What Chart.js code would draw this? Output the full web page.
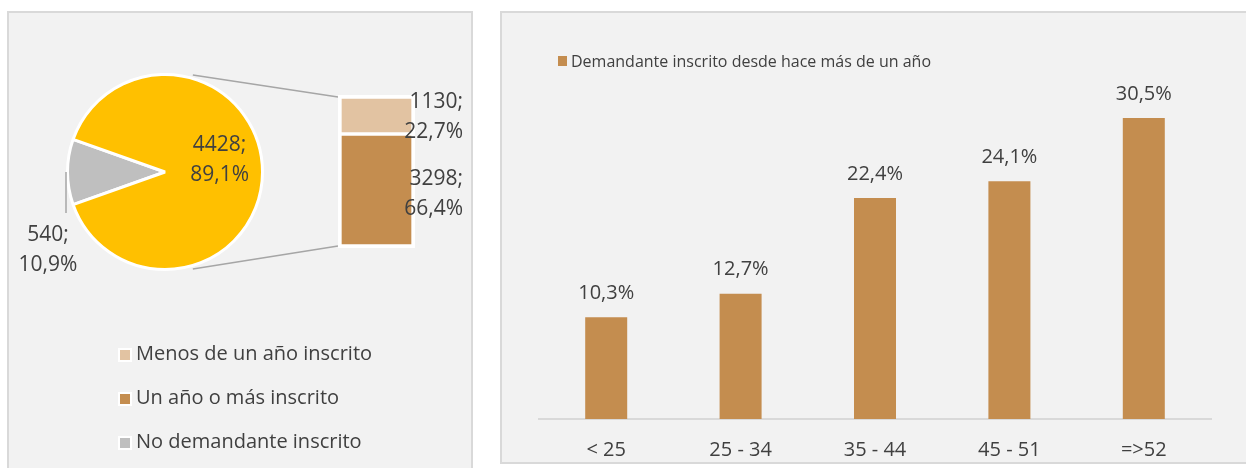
<!DOCTYPE html>
<html><head><meta charset="utf-8">
<script src="https://cdn.jsdelivr.net/npm/chart.js@4.4.1/dist/chart.umd.min.js"></script>
<style>
html,body{margin:0;padding:0;background:#fff;width:1246px;height:468px;overflow:hidden;font-family:"Open Sans",sans-serif;color:#404040}
.panel{position:absolute;background:#f2f2f2;border:2px solid #d9d9d9;box-sizing:border-box}
canvas{position:absolute}
.lt{position:absolute;white-space:nowrap}
.sw{position:absolute;box-sizing:content-box}
</style></head><body>
<div class="panel" style="left:7px;top:11px;width:466px;height:470px"></div>
<div class="panel" style="left:500px;top:11px;width:760px;height:453px"></div>
<canvas id="pie" width="462" height="455" style="left:9px;top:13px"></canvas>
<canvas id="stack" width="150" height="180" style="left:320px;top:80px"></canvas>
<canvas id="bars" width="744" height="468" style="left:502px;top:13px"></canvas>
<div id="legends"></div>
<script>
// ---- data ----
const pieLabels = ['No demandante inscrito', 'Demandante inscrito'];
const pieValues = [540, 4428];
const stackLabels = ['Un año o más inscrito', 'Menos de un año inscrito'];
const stackValues = [3298, 1130];
const leftLegendLabels = ['Menos de un año inscrito', 'Un año o más inscrito', 'No demandante inscrito'];
const ageCategories = ['< 25', '25 - 34', '35 - 44', '45 - 51', '=>52'];
const ageValues = [10.3, 12.7, 22.4, 24.1, 30.5];
const barSeriesName = 'Demandante inscrito desde hace más de un año';

const COL = {yellow:'#FFC000', gray:'#BFBFBF', dark:'#C48D4F', light:'#E2C3A2', text:'#404040', line:'#A6A6A6'};
const FONT = '"Open Sans", sans-serif';
const total = pieValues.reduce((a,b)=>a+b,0);
const pct = v => (v/total*100).toFixed(1).replace('.', ',') + '%';
const num = v => v.toFixed(1).replace('.', ',') + '%';

// ---- legends (HTML) ----
const leg = document.getElementById('legends');
const leftCols = [COL.light, COL.dark, COL.gray];
const leftRows = [354, 398, 442];
leftLegendLabels.forEach((t,i)=>{
  const s = document.createElement('div'); s.className='sw';
  s.style.cssText += `left:118px;top:${leftRows[i]-6.5}px;width:10px;height:10px;border:2.5px solid #fff;background:${leftCols[i]}`;
  leg.appendChild(s);
  const d = document.createElement('div'); d.className='lt'; d.textContent=t;
  d.style.cssText += `left:136px;top:${leftRows[i]-14.6}px;font-size:20px;line-height:28px`;
  leg.appendChild(d);
});
{
  const s = document.createElement('div'); s.className='sw';
  s.style.cssText += `left:558px;top:56px;width:9px;height:9.5px;background:${COL.dark}`;
  leg.appendChild(s);
  const d = document.createElement('div'); d.className='lt'; d.textContent=barSeriesName;
  d.style.cssText += `left:571px;top:49.7px;font-size:16px;line-height:22px`;
  leg.appendChild(d);
}

// ---- stacked bar (bar of pie) ----
const stackLabelPlugin = {
  id:'stackLabels',
  afterDraw(chart){
    const ctx = chart.ctx; ctx.save();
    ctx.font = '21px ' + FONT; ctx.fillStyle = COL.text; ctx.textAlign='right'; ctx.textBaseline='middle';
    chart.data.datasets.forEach((ds,i)=>{
      const el = chart.getDatasetMeta(i).data[0];
      const xr = el.x + el.width/2 + 48;
      const yc = (el.y + el.base)/2 + 2.5;
      ctx.fillText(ds.data[0] + ';', xr, yc - 15);
      ctx.fillText(pct(ds.data[0]), xr, yc + 15);
    });
    ctx.restore();
  }
};
const stackChart = new Chart(document.getElementById('stack'), {
  type:'bar',
  data:{labels:[''], datasets:[
    {label:stackLabels[0], data:[stackValues[0]], backgroundColor:COL.dark, borderColor:'#fff',
     borderWidth:{left:4,right:4,bottom:4,top:2}, borderSkipped:false},
    {label:stackLabels[1], data:[stackValues[1]], backgroundColor:COL.light, borderColor:'#fff',
     borderWidth:{left:4,right:4,top:4,bottom:2}, borderSkipped:false}
  ]},
  options:{responsive:false, animation:false,
    layout:{padding:{left:18,right:55,top:15,bottom:12}},
    datasets:{bar:{barPercentage:1, categoryPercentage:1}},
    scales:{x:{display:false, stacked:true}, y:{display:false, stacked:true, min:0, max:stackValues[0]+stackValues[1]}},
    plugins:{legend:{display:false}, tooltip:{enabled:false}}},
  plugins:[stackLabelPlugin]
});

// ---- pie ----
const pieCanvas = document.getElementById('pie'), stackCanvas = document.getElementById('stack');
const pieDecor = {
  id:'pieDecor',
  afterDraw(chart){
    const ctx = chart.ctx; ctx.save();
    const meta = chart.getDatasetMeta(0);
    const g = meta.data[0], y = meta.data[1];
    const cx = g.x, cy = g.y, R = g.outerRadius;
    // connector lines to stacked bar
    const ox = stackCanvas.offsetLeft - pieCanvas.offsetLeft, oy = stackCanvas.offsetTop - pieCanvas.offsetTop;
    const b0 = stackChart.getDatasetMeta(0).data[0], b1 = stackChart.getDatasetMeta(1).data[0];
    const bl = b0.x - b0.width/2 + ox, bt = b1.y + oy, bb = b0.base + oy;
    const th = 16*Math.PI/180, Rc = R + 3.5;
    ctx.strokeStyle = COL.line; ctx.lineWidth = 1.5;
    ctx.beginPath();
    ctx.moveTo(cx + Rc*Math.sin(th), cy - Rc*Math.cos(th)); ctx.lineTo(bl, bt + 2);
    ctx.moveTo(cx + Rc*Math.sin(th), cy + Rc*Math.cos(th)); ctx.lineTo(bl, bb - 2);
    ctx.stroke();
    // gray leader line
    const gm = (g.startAngle + g.endAngle)/2;
    const ex = cx + (R+1.5)*Math.cos(gm), ey = cy + (R+1.5)*Math.sin(gm);
    ctx.beginPath(); ctx.moveTo(ex, ey); ctx.lineTo(ex, ey + 41); ctx.stroke();
    // labels
    ctx.font = '21px ' + FONT; ctx.fillStyle = COL.text; ctx.textAlign='center'; ctx.textBaseline='middle';
    const ym = (y.startAngle + y.endAngle)/2;
    const lx = cx + 0.56*R*Math.cos(ym), ly = cy + 0.56*R*Math.sin(ym) - 12;
    ctx.fillText(pieValues[1] + ';', lx, ly - 15);
    ctx.fillText(pct(pieValues[1]), lx, ly + 15);
    const gx = ex - 18, gy = ey + 78;
    ctx.fillText(pieValues[0] + ';', gx, gy - 15);
    ctx.fillText(pct(pieValues[0]), gx, gy + 15);
    ctx.restore();
  }
};
new Chart(pieCanvas, {
  type:'pie',
  data:{labels:pieLabels, datasets:[{data:pieValues, backgroundColor:[COL.gray, COL.yellow], borderColor:'#fff', borderWidth:3}]},
  options:{responsive:false, animation:false,
    rotation: 270 - 180*pieValues[0]/total,
    layout:{padding:{left:57,top:60,right:207,bottom:197}},
    plugins:{legend:{display:false}, tooltip:{enabled:false}}},
  plugins:[pieDecor]
});

// ---- age bar chart ----
const barLabelPlugin = {
  id:'barLabels',
  afterDatasetsDraw(chart){
    const ctx = chart.ctx; ctx.save();
    ctx.font = '20px ' + FONT; ctx.fillStyle = COL.text; ctx.textAlign='center'; ctx.textBaseline='middle';
    chart.getDatasetMeta(0).data.forEach((el,i)=>{
      ctx.fillText(num(chart.data.datasets[0].data[i]), el.x, el.y - 24);
    });
    ctx.restore();
  }
};
new Chart(document.getElementById('bars'), {
  type:'bar',
  data:{labels:ageCategories, datasets:[{label:barSeriesName, data:ageValues, backgroundColor:COL.dark, barPercentage:0.3125, categoryPercentage:1}]},
  options:{responsive:false, animation:false,
    layout:{padding:{left:37,right:35,top:60.6,bottom:0}},
    scales:{
      x:{grid:{display:false, drawTicks:false}, border:{display:true, color:'#D9D9D9', width:2},
         ticks:{color:COL.text, font:{family:'Open Sans', size:20}, padding:19}},
      y:{display:false, min:0, max:35}
    },
    plugins:{legend:{display:false}, tooltip:{enabled:false}}},
  plugins:[barLabelPlugin]
});
</script>
</body></html>
